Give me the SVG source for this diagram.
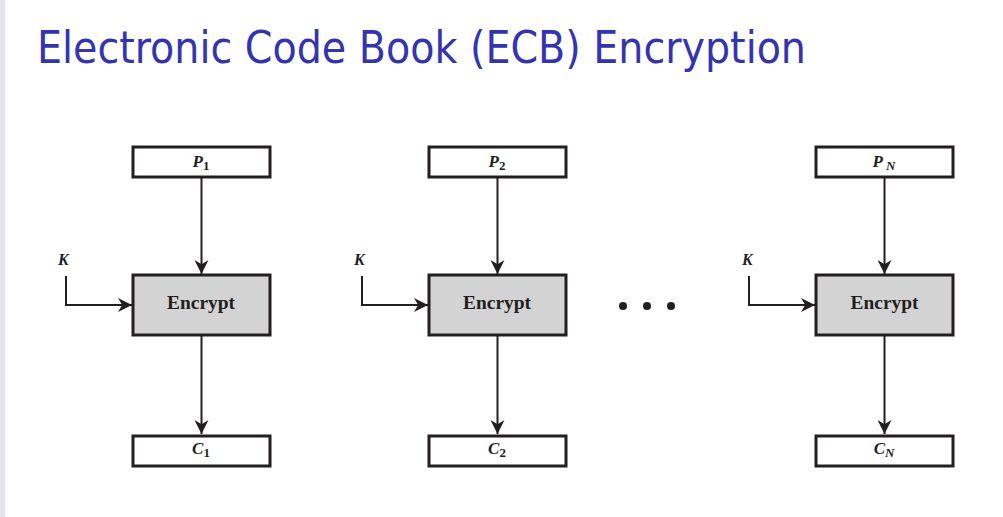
<svg xmlns="http://www.w3.org/2000/svg" width="1003" height="517" viewBox="0 0 1003 517">
<defs>
<marker id="ah" viewBox="0 0 10 10" refX="10" refY="5" markerWidth="14" markerHeight="14" markerUnits="userSpaceOnUse" orient="auto">
<path d="M0,0 L10,5 L0,10 L3,5 z" fill="#231f20"/>
</marker>
<style>
.title{font-family:"DejaVu Sans Condensed","DejaVu Sans",sans-serif;font-size:45px;fill:#3434b0}
.io{fill:#fff;stroke:#231f20;stroke-width:3}
.enc{fill:#d3d3d3;stroke:#231f20;stroke-width:3}
.lbl{font-family:"Liberation Serif",serif;font-weight:bold;fill:#231f20}
.it{font-style:italic}
.conn{fill:none;stroke:#231f20;stroke-width:2;marker-end:url(#ah)}
</style>
</defs>
<rect width="1003" height="517" fill="#fff"/>
<rect x="0" y="0" width="5" height="517" fill="#e2e2f2"/>
<text class="title" x="37" y="63" textLength="769" lengthAdjust="spacingAndGlyphs">Electronic Code Book (ECB) Encryption</text>

<g id="connectors">
<path class="conn" d="M201.5,178 V274"/>
<path class="conn" d="M201.5,336 V434"/>
<path class="conn" d="M66,276 V305 H132"/>
<path class="conn" d="M497.5,178 V274"/>
<path class="conn" d="M497.5,336 V434"/>
<path class="conn" d="M362,276 V305 H428"/>
<path class="conn" d="M884.5,178 V274"/>
<path class="conn" d="M884.5,336 V434"/>
<path class="conn" d="M749,276 V305 H815"/>
</g>

<g id="block1">
<g id="p1"><rect class="io" x="133" y="147" width="137" height="30"/><text class="lbl" x="201" y="167" text-anchor="middle" font-size="17"><tspan class="it">P</tspan><tspan font-size="13" dy="3">1</tspan></text></g>
<g id="k1"><text class="lbl it" x="58" y="265" font-size="16">K</text></g>
<g id="enc1"><rect class="enc" x="133" y="275" width="137" height="60"/><text class="lbl" x="167" y="309" font-size="19.5" textLength="68" lengthAdjust="spacingAndGlyphs">Encrypt</text></g>
<g id="c1"><rect class="io" x="133" y="436" width="137" height="30"/><text class="lbl" x="201" y="454" text-anchor="middle" font-size="17"><tspan class="it">C</tspan><tspan font-size="13" dy="3">1</tspan></text></g>
</g>

<g id="block2">
<g id="p2"><rect class="io" x="429" y="147" width="137" height="30"/><text class="lbl" x="497" y="167" text-anchor="middle" font-size="17"><tspan class="it">P</tspan><tspan font-size="13" dy="3">2</tspan></text></g>
<g id="k2"><text class="lbl it" x="354" y="265" font-size="16">K</text></g>
<g id="enc2"><rect class="enc" x="429" y="275" width="137" height="60"/><text class="lbl" x="463" y="309" font-size="19.5" textLength="68" lengthAdjust="spacingAndGlyphs">Encrypt</text></g>
<g id="c2"><rect class="io" x="429" y="436" width="137" height="30"/><text class="lbl" x="497" y="454" text-anchor="middle" font-size="17"><tspan class="it">C</tspan><tspan font-size="13" dy="3">2</tspan></text></g>
</g>

<g id="dots">
<circle cx="623" cy="306" r="4" fill="#231f20"/>
<circle cx="647" cy="306" r="4" fill="#231f20"/>
<circle cx="671" cy="306" r="4" fill="#231f20"/>
</g>

<g id="blockN">
<g id="pN"><rect class="io" x="816" y="147" width="137" height="30"/><text class="lbl" x="884" y="167" text-anchor="middle" font-size="17"><tspan class="it">P</tspan><tspan class="it" font-size="13" dx="3" dy="3">N</tspan></text></g>
<g id="kN"><text class="lbl it" x="742" y="265" font-size="16">K</text></g>
<g id="encN"><rect class="enc" x="816" y="275" width="137" height="60"/><text class="lbl" x="850.5" y="309" font-size="19.5" textLength="68" lengthAdjust="spacingAndGlyphs">Encrypt</text></g>
<g id="cN"><rect class="io" x="816" y="436" width="137" height="30"/><text class="lbl" x="884" y="454" text-anchor="middle" font-size="17"><tspan class="it">C</tspan><tspan class="it" font-size="13" dy="3">N</tspan></text></g>
</g>
</svg>
